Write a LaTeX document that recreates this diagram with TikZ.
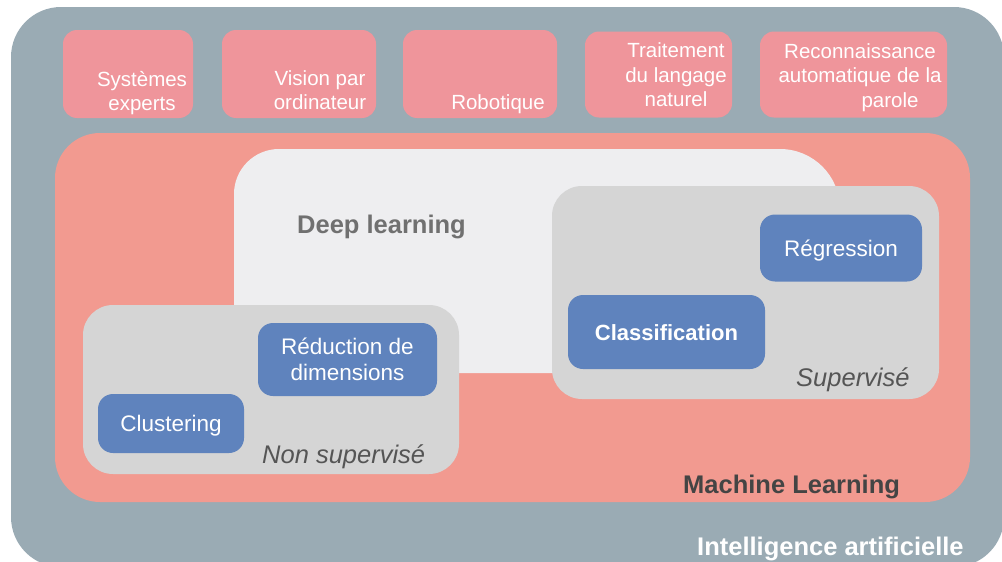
\documentclass[tikz,border=0pt]{standalone}
\usepackage{fontspec}
\setmainfont{Liberation Sans}
\definecolor{aigray}{HTML}{9AABB4}
\definecolor{toppink}{HTML}{EF959B}
\definecolor{mlsalmon}{HTML}{F29A90}
\definecolor{dlwhite}{HTML}{EEEEF0}
\definecolor{grpgray}{HTML}{D5D5D5}
\definecolor{algblue}{HTML}{5F83BD}
\definecolor{dltext}{HTML}{707070}
\definecolor{grptext}{HTML}{555555}
\definecolor{mltext}{HTML}{444444}
\begin{document}
\begin{tikzpicture}[x=1pt,y=-1pt,
  topbox/.style={fill=toppink, rounded corners=14pt, inner sep=0pt, minimum height=88pt},
  toptext/.style={text=white, font=\fontsize{20.5}{24.5}\selectfont, align=center, inner sep=0pt},
  algbox/.style={fill=algblue, rounded corners=15pt, text=white, align=center,
    font=\fontsize{22.5}{26}\selectfont, inner sep=0pt},
  oneline/.style={text height=16pt, text depth=0pt},
  biglabel/.style={anchor=base west, inner sep=0pt, font=\bfseries\fontsize{25.5}{30}\selectfont},
  grplabel/.style={anchor=base west, inner sep=0pt, text=grptext, font=\itshape\fontsize{25.5}{30}\selectfont}
]
\useasboundingbox (0,0) rectangle (1002,562);
\clip (0,0) rectangle (1002,562);
% Intelligence artificielle
\fill[aigray, rounded corners=50pt] (11,7) rectangle (1004,567);
% Machine learning
\fill[mlsalmon, rounded corners=45pt] (55,133) rectangle (970,502);
% Deep learning
\fill[dlwhite, rounded corners=45pt] (234,149) rectangle (700,373);
\fill[dlwhite, rounded corners=60pt] (500,149) rectangle (840,373);
% groups
\fill[grpgray, rounded corners=30pt] (83,305) rectangle (459,474);
\fill[grpgray, rounded corners=30pt] (552,186) rectangle (939,399);

% top boxes
\node[topbox, minimum width=130pt] (se) at (128,74) {};
\node[topbox, minimum width=154pt] (vo) at (299,74) {};
\node[topbox, minimum width=154pt] (ro) at (480,74) {};
\node[topbox, minimum width=147pt, minimum height=86pt] (tl) at (658.5,74.5) {};
\node[topbox, minimum width=187pt, minimum height=86pt] (rp) at (853.5,74.5) {};
\node[toptext] (se-t) at (142,93) {Systèmes\\experts};
\node[toptext] (vo-t) at (320,90) {Vision par\\ordinateur};
\node[toptext, anchor=base] (ro-t) at (498,109) {Robotique};
\node[toptext] (tl-t) at (676,75) {Traitement\\du langage\\naturel};
\node[toptext] (rp-t) at (860,77.5) {Reconnaissance\\automatique de la\\\hspace*{60pt}parole};

% algorithm boxes
\node[algbox, minimum width=179pt, minimum height=73pt] (red) at (347.5,359.5) {Réduction de\\dimensions};
\node[algbox, oneline, minimum width=146pt, minimum height=59pt] (clu) at (171,423.5) {Clustering};
\node[algbox, oneline, minimum width=162pt, minimum height=67pt] (reg) at (841,248) {Régression};
\node[algbox, oneline, minimum width=197pt, minimum height=74pt, font=\bfseries\fontsize{22}{26}\selectfont] (cla) at (666.5,332) {Classification};

% labels
\node[biglabel, text=dltext] (dl) at (297,233) {Deep learning};
\node[grplabel] (ns) at (262,463) {Non supervisé};
\node[grplabel] (su) at (796,386) {Supervisé};
\node[biglabel, text=mltext] (ml) at (683,493) {Machine Learning};
\node[biglabel, text=white] (ai) at (697,555) {Intelligence artificielle};
\end{tikzpicture}
\end{document}
